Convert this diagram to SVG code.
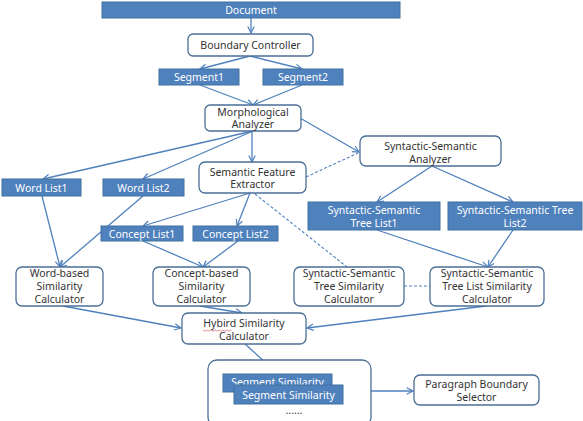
<svg xmlns="http://www.w3.org/2000/svg" width="583" height="421" viewBox="0 0 583 421">
<defs>
<style>
.bf{fill:#4f81bd;stroke:#41709f;stroke-width:1}
.wb{fill:#fff;stroke:#4a6f96;stroke-width:1.3}
.tw{font-family:"Noto Sans","DejaVu Sans",sans-serif;font-size:10.5px;fill:#fff;text-anchor:middle}
.tk{font-family:"Noto Sans","DejaVu Sans",sans-serif;font-size:10.5px;fill:#333;text-anchor:middle}
.ln{stroke:#4f81bd;stroke-width:1.3;fill:none}
.ds{stroke:#4f81bd;stroke-width:1.1;fill:none;stroke-dasharray:3,2}
</style>
<marker id="ah" viewBox="0 0 10 10" refX="9" refY="5" markerWidth="8" markerHeight="8" orient="auto" markerUnits="userSpaceOnUse">
<path d="M1,1 L9,5 L1,9" fill="none" stroke="#4f81bd" stroke-width="1.5"/>
</marker>
<clipPath id="backclip"><rect x="223" y="374" width="109" height="11"/></clipPath>
</defs>
<rect width="583" height="421" fill="#fff"/>
<g id="connectors">
<line class="ln" x1="251" y1="18" x2="251" y2="33" marker-end="url(#ah)"/>
<line class="ln" x1="250" y1="56" x2="200" y2="69" marker-end="url(#ah)"/>
<line class="ln" x1="250" y1="56" x2="302" y2="69" marker-end="url(#ah)"/>
<line class="ln" x1="200" y1="85" x2="253" y2="105" marker-end="url(#ah)"/>
<line class="ln" x1="302" y1="85" x2="253" y2="105" marker-end="url(#ah)"/>
<line class="ln" x1="253" y1="131" x2="43" y2="179" marker-end="url(#ah)"/>
<line class="ln" x1="253" y1="131" x2="143" y2="179" marker-end="url(#ah)"/>
<line class="ln" x1="252" y1="131" x2="252" y2="162" marker-end="url(#ah)"/>
<line class="ln" x1="300" y1="118" x2="359" y2="152" marker-end="url(#ah)"/>
<line class="ds" x1="306" y1="177" x2="358" y2="153"/>
<line class="ln" x1="250" y1="193" x2="143" y2="226" marker-end="url(#ah)"/>
<line class="ln" x1="250" y1="193" x2="237" y2="226" marker-end="url(#ah)"/>
<line class="ds" x1="255" y1="194" x2="347" y2="267"/>
<line class="ln" x1="432" y1="166" x2="377" y2="202" marker-end="url(#ah)"/>
<line class="ln" x1="432" y1="166" x2="513" y2="202" marker-end="url(#ah)"/>
<line class="ln" x1="42" y1="196" x2="60" y2="267" marker-end="url(#ah)"/>
<line class="ln" x1="143" y1="196" x2="60" y2="267" marker-end="url(#ah)"/>
<line class="ln" x1="143" y1="241" x2="203" y2="267" marker-end="url(#ah)"/>
<line class="ln" x1="238" y1="241" x2="203" y2="267" marker-end="url(#ah)"/>
<line class="ln" x1="377" y1="230" x2="488" y2="267" marker-end="url(#ah)"/>
<line class="ln" x1="513" y1="230" x2="488" y2="267" marker-end="url(#ah)"/>
<line class="ds" x1="404" y1="286" x2="430" y2="286"/>
<line class="ln" x1="63" y1="306" x2="181" y2="328" marker-end="url(#ah)"/>
<line class="ln" x1="200" y1="306" x2="242" y2="313" marker-end="url(#ah)"/>
<line class="ln" x1="486" y1="306" x2="307" y2="328" marker-end="url(#ah)"/>
<line class="ln" x1="245" y1="344" x2="277" y2="373" marker-end="url(#ah)"/>
<line class="ln" x1="371" y1="391" x2="413" y2="391" marker-end="url(#ah)"/>
</g>
<g id="document"><rect class="bf" x="102" y="2" width="298" height="16"/><text class="tw" x="251" y="14">Document</text></g>
<g id="boundary-controller"><rect class="wb" x="188" y="34" width="125" height="22" rx="5"/><text class="tk" x="250.5" y="49">Boundary Controller</text></g>
<g id="segment1"><rect class="bf" x="159" y="69" width="80" height="16"/><text class="tw" x="199" y="81">Segment1</text></g>
<g id="segment2"><rect class="bf" x="263" y="69" width="80" height="16"/><text class="tw" x="303" y="81">Segment2</text></g>
<g id="morphological-analyzer"><rect class="wb" x="205" y="105" width="96" height="26" rx="5"/><text class="tk" x="253" y="115.5">Morphological</text><text class="tk" x="253" y="128">Analyzer</text></g>
<g id="syntactic-semantic-analyzer"><rect class="wb" x="360" y="136" width="141" height="30" rx="6"/><text class="tk" x="430.5" y="149.5">Syntactic-Semantic</text><text class="tk" x="430.5" y="162.5">Analyzer</text></g>
<g id="semantic-feature-extractor"><rect class="wb" x="199" y="162" width="107" height="31" rx="6"/><text class="tk" x="252.5" y="175.5">Semantic Feature</text><text class="tk" x="252.5" y="188">Extractor</text></g>
<g id="word-list1"><rect class="bf" x="2" y="179" width="79" height="17"/><text class="tw" x="41.5" y="192">Word List1</text></g>
<g id="word-list2"><rect class="bf" x="103" y="179" width="81" height="17"/><text class="tw" x="143.5" y="192">Word List2</text></g>
<g id="sst-list1"><rect class="bf" x="308" y="202" width="132" height="28"/><text class="tw" x="374" y="214">Syntactic-Semantic</text><text class="tw" x="374" y="227">Tree List1</text></g>
<g id="sst-list2"><rect class="bf" x="448" y="202" width="134" height="28"/><text class="tw" x="515" y="214">Syntactic-Semantic Tree</text><text class="tw" x="515" y="227">List2</text></g>
<g id="concept-list1"><rect class="bf" x="101" y="226" width="82" height="15"/><text class="tw" x="142" y="237.5">Concept List1</text></g>
<g id="concept-list2"><rect class="bf" x="193" y="226" width="85" height="15"/><text class="tw" x="235.5" y="237.5">Concept List2</text></g>
<g id="word-based-calculator"><rect class="wb" x="16" y="267" width="87" height="39" rx="6"/><text class="tk" x="59.5" y="277">Word-based</text><text class="tk" x="59.5" y="290">Similarity</text><text class="tk" x="59.5" y="303">Calculator</text></g>
<g id="concept-based-calculator"><rect class="wb" x="153" y="267" width="97" height="39" rx="6"/><text class="tk" x="201.5" y="277">Concept-based</text><text class="tk" x="201.5" y="290">Similarity</text><text class="tk" x="201.5" y="303">Calculator</text></g>
<g id="sst-similarity-calculator"><rect class="wb" x="294" y="267" width="110" height="39" rx="6"/><text class="tk" x="349" y="277">Syntactic-Semantic</text><text class="tk" x="349" y="290">Tree Similarity</text><text class="tk" x="349" y="303">Calculator</text></g>
<g id="sst-list-similarity-calculator"><rect class="wb" x="430" y="267" width="114" height="39" rx="6"/><text class="tk" x="487" y="277">Syntactic-Semantic</text><text class="tk" x="487" y="290">Tree List Similarity</text><text class="tk" x="487" y="303">Calculator</text></g>
<g id="hybird-calculator"><rect class="wb" x="182" y="313" width="124" height="31" rx="6"/><text class="tk" x="244" y="327">Hybird Similarity</text><text class="tk" x="244" y="340">Calculator</text>
<path d="M203,330 l2,1.2 l2,-1.2 l2,1.2 l2,-1.2 l2,1.2 l2,-1.2 l2,1.2 l2,-1.2 l2,1.2 l2,-1.2 l2,1.2 l2,-1.2 l2,1.2 l2,-1.2" fill="none" stroke="#e06060" stroke-width="0.7"/></g>
<g id="segment-similarity-container"><rect class="wb" x="208" y="360" width="163" height="66" rx="9"/>
<rect class="bf" x="223" y="374" width="109" height="18"/><text class="tw" x="277.5" y="386" clip-path="url(#backclip)">Segment Similarity</text>
<rect class="bf" x="234" y="385" width="109" height="19"/><text class="tw" x="288.5" y="398.5">Segment Similarity</text>
<text class="tk" x="294" y="414">......</text></g>
<g id="paragraph-boundary-selector"><rect class="wb" x="414" y="375" width="125" height="30" rx="6"/><text class="tk" x="476.5" y="388">Paragraph Boundary</text><text class="tk" x="476.5" y="401">Selector</text></g>
</svg>
